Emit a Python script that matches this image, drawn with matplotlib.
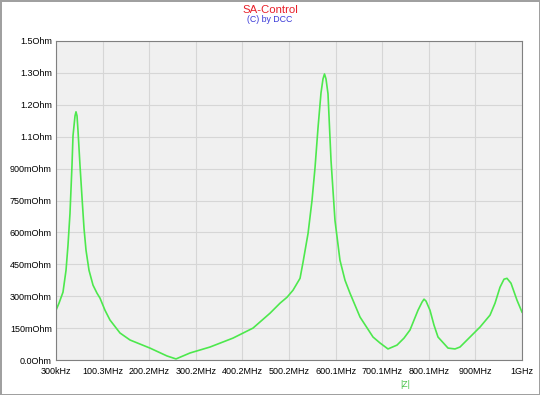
import numpy as np
import matplotlib.pyplot as plt

plt.rcParams['font.family'] = ['Liberation Sans', 'DejaVu Sans']

# |Z| trace (MHz, Ohm)
freq_mhz = [0.3, 6.7, 15.3, 21.8, 26.0, 30.3, 34.6, 36.8, 41.1, 43.2, 45.4, 47.5,
            51.8, 56.1, 60.4, 64.7, 71.1, 79.7, 88.3, 94.7, 105.4, 116.1, 137.6,
            159.1, 201.9, 238.4, 257.7, 287.8, 330.7, 380.0, 422.9, 459.4, 480.8,
            495.9, 508.7, 523.8, 530.2, 541.0, 549.5, 556.0, 562.4, 568.8, 573.1,
            576.3, 579.5, 583.8, 590.3, 598.8, 609.5, 620.3, 631.0, 652.5, 680.4,
            695.4, 712.5, 731.8, 746.9, 759.7, 776.9, 785.5, 789.8, 794.1, 802.6,
            811.2, 819.8, 841.3, 856.3, 867.0, 888.5, 910.0, 931.4, 942.1, 952.8,
            961.4, 967.8, 976.4, 989.3, 1000.0]
z_ohm = [0.234, 0.267, 0.319, 0.422, 0.539, 0.689, 0.914, 1.055, 1.148, 1.167, 1.148, 1.078,
         0.914, 0.764, 0.619, 0.516, 0.422, 0.352, 0.314, 0.291, 0.234, 0.188, 0.127,
         0.094, 0.056, 0.019, 0.005, 0.033, 0.061, 0.103, 0.150, 0.220, 0.267,
         0.295, 0.328, 0.384, 0.459, 0.595, 0.750, 0.905, 1.092, 1.256, 1.322,
         1.345, 1.322, 1.252, 0.938, 0.656, 0.469, 0.375, 0.314, 0.202, 0.108,
         0.080, 0.052, 0.070, 0.103, 0.141, 0.234, 0.272, 0.286, 0.277, 0.234,
         0.164, 0.108, 0.056, 0.052, 0.061, 0.108, 0.155, 0.211, 0.267, 0.342,
         0.380, 0.384, 0.361, 0.281, 0.225]

x_labels = ['300kHz', '100.3MHz', '200.2MHz', '300.2MHz', '400.2MHz', '500.2MHz',
            '600.1MHz', '700.1MHz', '800.1MHz', '900MHz', '1GHz']
y_labels = ['0.0Ohm', '150mOhm', '300mOhm', '450mOhm', '600mOhm', '750mOhm',
            '900mOhm', '1.1Ohm', '1.2Ohm', '1.3Ohm', '1.5Ohm']

fig = plt.figure(figsize=(5.4, 3.95), dpi=100)
fig.patch.set_edgecolor('#a0a0a0')
fig.patch.set_linewidth(2)
ax = fig.add_axes([56/540, 35/395, 466/540, 319/395])
ax.set_facecolor('#f0f0f0')

ax.plot(freq_mhz, z_ohm, color='#4de84d', lw=1.2)

ax.set_xlim(0.3, 1000)
ax.set_ylim(0, 1.5)
ax.set_xticks(np.linspace(0.3, 1000, 11))
ax.set_xticklabels(x_labels)
ax.set_yticks(np.linspace(0, 1.5, 11))
ax.set_yticklabels(y_labels)
ax.tick_params(length=0, labelsize=6.5)
ax.tick_params(axis='x', pad=5)
ax.tick_params(axis='y', pad=3)
ax.grid(color='#d6d6d6', lw=0.8)
for s in ax.spines.values():
    s.set_color('#808080')

fig.text(0.5, 0.968, 'SA-Control', color='#e8202a', fontsize=8.2, ha='center')
fig.text(0.5, 0.944, '(C) by DCC', color='#3a3ad8', fontsize=6.3, ha='center')
fig.text(405/540, 8/395, '|Z|', color='#4cc44c', fontsize=6.3, ha='center')

fig.savefig('out.png', dpi=100)
